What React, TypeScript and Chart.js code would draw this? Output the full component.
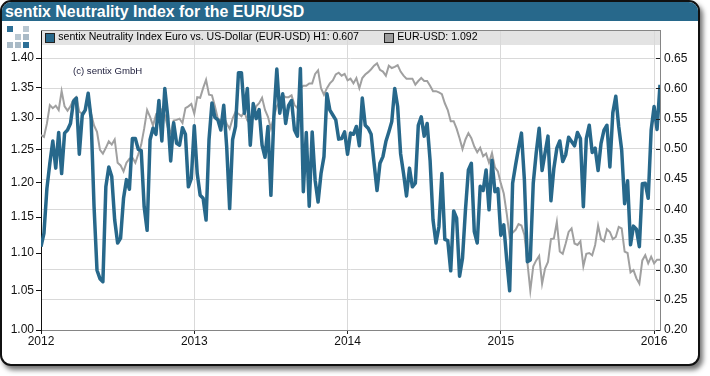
import React, { useEffect, useRef } from "react";
import { Chart, registerables } from "chart.js";

Chart.register(...registerables);

const TITLE = "sentix Neutrality Index for the EUR/USD";
const CREDIT = "(c) sentix GmbH";
const BLUE_LABEL = "sentix Neutrality Index Euro vs. US-Dollar (EUR-USD) H1: 0.607";
const GRAY_LABEL = "EUR-USD: 1.092";
const START_YEAR = 2012;
const WEEKS_PER_YEAR = 52;
const YEAR_TICKS = [2012, 2013, 2014, 2015, 2016];
const LEFT_TICKS = [1.0, 1.05, 1.1, 1.15, 1.2, 1.25, 1.3, 1.35, 1.4];

const neutrality = [
  0.338, 0.36, 0.434, 0.476, 0.513, 0.468, 0.527, 0.459, 0.526, 0.531, 0.542, 0.578, 0.584, 0.491, 0.556, 0.564, 0.592, 0.55, 0.404, 0.299,
  0.285, 0.28, 0.437, 0.47, 0.454, 0.382, 0.344, 0.352, 0.418, 0.449, 0.433, 0.517, 0.517, 0.499, 0.497, 0.404, 0.365, 0.515, 0.534, 0.524,
  0.58, 0.513, 0.6, 0.553, 0.48, 0.543, 0.509, 0.506, 0.535, 0.524, 0.437, 0.451,
  0.538, 0.459, 0.423, 0.418, 0.382, 0.515, 0.576, 0.552, 0.548, 0.531, 0.572, 0.503, 0.401, 0.515, 0.537, 0.626, 0.626, 0.559,
  0.6, 0.506, 0.575, 0.55, 0.565, 0.506, 0.486, 0.537, 0.423, 0.553, 0.632, 0.559, 0.591, 0.542, 0.572, 0.58, 0.531, 0.521, 0.633, 0.429,
  0.527, 0.405, 0.528, 0.448, 0.412, 0.459, 0.487, 0.591, 0.564, 0.556, 0.548, 0.516, 0.517, 0.528, 0.491, 0.526, 0.524, 0.537, 0.505,
  0.584, 0.539, 0.534, 0.524, 0.476, 0.431, 0.476, 0.487, 0.512, 0.528, 0.545, 0.6, 0.57, 0.492, 0.459, 0.422, 0.468, 0.437, 0.443, 0.539,
  0.553, 0.521, 0.542, 0.481, 0.382, 0.344, 0.371, 0.459, 0.35, 0.348, 0.298, 0.397, 0.385, 0.289, 0.319, 0.399, 0.465, 0.476, 0.363, 0.344,
  0.438, 0.431, 0.465, 0.399, 0.481, 0.429, 0.434, 0.357, 0.374, 0.316, 0.265,
  0.443, 0.473, 0.501, 0.526, 0.448, 0.313, 0.316, 0.443, 0.493, 0.534, 0.464, 0.493, 0.521, 0.414, 0.468, 0.501, 0.513, 0.479, 0.49, 0.519,
  0.512, 0.505, 0.527, 0.517, 0.404, 0.517, 0.539, 0.494, 0.501, 0.464, 0.509, 0.531, 0.539, 0.47, 0.56, 0.587, 0.537, 0.498, 0.409, 0.447,
  0.341, 0.372, 0.367, 0.338, 0.442, 0.443, 0.418, 0.531, 0.57, 0.532, 0.606,
];

const eurUsd = [
  1.273, 1.27, 1.291, 1.321, 1.316, 1.32, 1.313, 1.344, 1.319, 1.312, 1.319, 1.33, 1.334, 1.31, 1.307, 1.313, 1.333, 1.307, 1.288, 1.278,
  1.25, 1.244, 1.253, 1.263, 1.258, 1.266, 1.23, 1.226, 1.217, 1.23, 1.236, 1.238, 1.23, 1.243, 1.258, 1.283, 1.313, 1.302, 1.288, 1.305,
  1.299, 1.313, 1.305, 1.285, 1.276, 1.296, 1.297, 1.299, 1.292, 1.316, 1.319, 1.323, 1.307, 1.334,
  1.333, 1.349, 1.363, 1.338, 1.337, 1.319, 1.299, 1.296, 1.302, 1.291, 1.283, 1.299, 1.31, 1.307, 1.303, 1.31, 1.296, 1.291, 1.302, 1.319,
  1.324, 1.333, 1.313, 1.302, 1.283, 1.302, 1.319, 1.327, 1.337, 1.334, 1.334, 1.337, 1.321, 1.316, 1.349, 1.353, 1.353, 1.357, 1.357, 1.373,
  1.379, 1.349, 1.338, 1.349, 1.357, 1.362, 1.372, 1.375, 1.37, 1.373, 1.362, 1.365, 1.357, 1.366, 1.349,
  1.366, 1.372, 1.376, 1.381, 1.387, 1.391, 1.38, 1.377, 1.37, 1.387, 1.383, 1.385, 1.388, 1.377, 1.37, 1.365, 1.365, 1.365, 1.355, 1.361,
  1.366, 1.361, 1.361, 1.353, 1.344, 1.344, 1.342, 1.339, 1.324, 1.313, 1.295, 1.295, 1.283, 1.268, 1.251, 1.266, 1.276, 1.268, 1.255, 1.246,
  1.253, 1.24, 1.244, 1.23, 1.245, 1.223, 1.217, 1.199, 1.184, 1.155, 1.122,
  1.128, 1.132, 1.14, 1.138, 1.125, 1.088, 1.05, 1.082, 1.09, 1.096, 1.059, 1.079, 1.088, 1.119, 1.12, 1.143, 1.102, 1.099, 1.113, 1.129,
  1.134, 1.113, 1.111, 1.116, 1.082, 1.099, 1.1, 1.097, 1.111, 1.138, 1.119, 1.116, 1.133, 1.129, 1.119, 1.122, 1.136, 1.134, 1.102, 1.1,
  1.074, 1.077, 1.066, 1.059, 1.09, 1.097, 1.086, 1.095, 1.086, 1.091, 1.091,
];

const BLUE = "#27688b";
const GRAY = "#a0a0a0";
const GRID = "#d9d9d9";
const AXIS = "#858585";
const FONT = "'Liberation Sans', Arial, sans-serif";
const LEGEND_GAP = 25;

const toSeries = (values: number[]) =>
  values.map((y, i) => ({ x: START_YEAR + i / WEEKS_PER_YEAR, y }));

const chromePlugin = {
  id: "chrome",
  beforeLayout(chart: any) {
    // The legend sits inside the plot's grey band, so it must take no room from the layout.
    const legend = chart.legend;
    if (legend && !legend.__flat) {
      const fit = legend.fit;
      legend.fit = function () {
        fit.call(this);
        this.height = 0;
      };
      legend.__flat = true;
    }
  },
  afterLayout(chart: any) {
    const legend = chart.legend;
    const a = chart.chartArea;
    legend.left = a.left + 4 - LEGEND_GAP;
    legend.right = a.right;
    legend.top = a.top + 1.5 - LEGEND_GAP;
    legend.bottom = a.top + 15;
    legend.adjustHitBoxes();
  },
  beforeDraw(chart: any) {
    const { ctx, chartArea: a } = chart;
    ctx.save();
    ctx.fillStyle = "#e3e3e3";
    ctx.fillRect(a.left, a.top + 1, a.right - a.left, 14);
    ctx.restore();
  },
  afterDraw(chart: any) {
    const { ctx, chartArea: a } = chart;
    const r = chart.scales.yR;
    ctx.save();
    ctx.strokeStyle = AXIS;
    ctx.lineWidth = 1;
    ctx.beginPath();
    ctx.moveTo(a.left, a.top + 0.5);
    ctx.lineTo(a.right, a.top + 0.5);
    ctx.stroke();
    ctx.strokeStyle = "#222";
    r.ticks.forEach((_: any, i: number) => {
      const y = Math.round(r.getPixelForTick(i)) + 0.5;
      ctx.beginPath();
      ctx.moveTo(a.right - 4, y);
      ctx.lineTo(a.right, y);
      ctx.stroke();
    });
    const fills = [BLUE, "#9c9c9c"];
    (chart.legend?.legendHitBoxes ?? []).forEach((b: any, i: number) => {
      ctx.fillStyle = fills[i];
      ctx.strokeStyle = "#222";
      ctx.fillRect(Math.round(b.left) + 0.5, a.top + 3.5, 9, 9);
      ctx.strokeRect(Math.round(b.left) + 0.5, a.top + 3.5, 9, 9);
    });
    ctx.restore();
  },
};

const LOGO: [number, number, string][] = [
  [7, 26, "#2d6f96"],
  [23, 26, "#b9c7d1"],
  [15, 34, "#b9c7d1"],
  [23, 34, "#a9bac6"],
  [7, 42, "#a9bac6"],
  [15, 42, "#a9bac6"],
  [23, 42, "#2d6f96"],
];

export default function App() {
  const ref = useRef<HTMLCanvasElement>(null);

  useEffect(() => {
    document.body.style.margin = "0";
    const chart = new Chart(ref.current as HTMLCanvasElement, {
      type: "line",
      plugins: [chromePlugin],
      data: {
        datasets: [
          {
            label: BLUE_LABEL,
            data: toSeries(neutrality),
            yAxisID: "yR",
            borderColor: BLUE,
            backgroundColor: BLUE,
            borderWidth: 3.5,
            pointRadius: 0,
            tension: 0,
            order: 0,
            borderJoinStyle: "round",
          },
          {
            label: GRAY_LABEL,
            data: toSeries(eurUsd),
            yAxisID: "yL",
            borderColor: GRAY,
            backgroundColor: GRAY,
            borderWidth: 2,
            pointRadius: 0,
            tension: 0,
            order: 1,
          },
        ],
      } as any,
      options: {
        animation: false,
        responsive: false,
        parsing: { xAxisKey: "x", yAxisKey: "y" },
        layout: { padding: { top: 30, left: 0, right: 0, bottom: 0 } },
        font: { family: FONT, size: 12 },
        plugins: {
          tooltip: { enabled: false },
          legend: {
            display: true,
            position: "top",
            align: "start",
            labels: {
              boxWidth: 8,
              boxHeight: 1,
              padding: LEGEND_GAP,
              color: "#1c1c3a",
              font: { family: FONT, size: 10.55 },
              generateLabels: (c: any) =>
                c.data.datasets.map((d: any, i: number) => ({
                  text: d.label,
                  fillStyle: "transparent",
                  strokeStyle: "transparent",
                  lineWidth: 0,
                  datasetIndex: i,
                })),
            },
          },
        },
        scales: {
          x: {
            type: "linear",
            min: START_YEAR,
            max: START_YEAR + 210 / WEEKS_PER_YEAR,
            afterFit: (s: any) => { s.height = 46; },
            afterBuildTicks: (s: any) => {
              s.ticks = YEAR_TICKS.map((value) => ({ value }));
            },
            grid: { color: GRID, tickLength: 4, tickColor: "#222" },
            border: { color: AXIS },
            ticks: {
              autoSkip: false,
              maxRotation: 0,
              padding: 0,
              color: "#111",
              font: { family: FONT, size: 12 },
              callback: (v: any) => String(v),
            },
          },
          yL: {
            type: "logarithmic",
            position: "left",
            min: 1,
            max: 1.4497,
            afterFit: (s: any) => { s.width = 41; },
            afterBuildTicks: (s: any) => {
              s.ticks = LEFT_TICKS.map((value) => ({ value }));
            },
            grid: { drawOnChartArea: false, tickLength: 5, tickColor: "#111" },
            border: { color: "#111", width: 1 },
            ticks: {
              autoSkip: false,
              padding: 2,
              color: "#111",
              font: { family: FONT, size: 12 },
              callback: (v: any) => Number(v).toFixed(2),
            },
          },
          yR: {
            type: "linear",
            position: "right",
            min: 0.2,
            max: 0.6967,
            afterFit: (s: any) => { s.width = 50; },
            afterBuildTicks: (s: any) => {
              s.ticks = s.ticks.filter((t: any) => t.value < 0.66);
            },
            grid: { color: GRID, drawTicks: false },
            border: { color: AXIS },
            ticks: {
              stepSize: 0.05,
              autoSkip: false,
              padding: 4,
              color: "#111",
              font: { family: FONT, size: 12 },
              callback: (v: any) => Number(v).toFixed(2),
            },
          },
        },
      } as any,
    });
    return () => chart.destroy();
  }, []);

  return (
    <div style={{ position: "absolute", left: 0, top: 0, width: 710, height: 376, overflow: "hidden", background: "#fff" }}>
      <div
        style={{
          position: "absolute",
          left: 0,
          top: 0,
          width: 696,
          height: 362,
          border: "2px solid #111",
          borderRadius: 11,
          background: "#fff",
          boxShadow: "3px 4px 5px rgba(0,0,0,0.55)",
          overflow: "hidden",
        }}
      >
        <div
          style={{
            height: 19,
            lineHeight: "19px",
            background: BLUE,
            color: "#fff",
            fontFamily: FONT,
            fontWeight: "bold",
            fontSize: 15.9,
            paddingLeft: 3,
            whiteSpace: "nowrap",
          }}
        >
          {TITLE}
        </div>
      </div>
      {LOGO.map(([x, y, c], i) => (
        <div key={i} style={{ position: "absolute", left: x, top: y, width: 6, height: 6, background: c }} />
      ))}
      <canvas ref={ref} width={710} height={376} style={{ position: "absolute", left: 0, top: 0, display: "block" }} />
      <div
        style={{
          position: "absolute",
          left: 73,
          top: 65,
          fontFamily: FONT,
          fontSize: 9.6,
          lineHeight: "12px",
          color: "#1c1c3a",
          whiteSpace: "nowrap",
        }}
      >
        {CREDIT}
      </div>
    </div>
  );
}
